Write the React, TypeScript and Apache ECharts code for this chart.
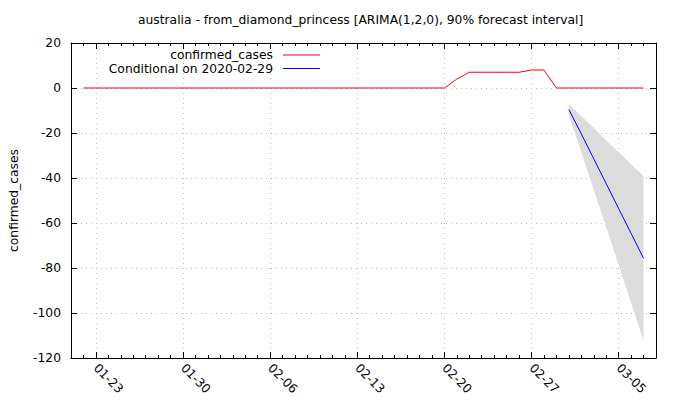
import React, { useEffect, useRef } from "react";
import * as echarts from "echarts";

const axisStart = "2020-01-21";
const axisEnd = "2020-03-08";
const tickDates = ["2020-01-23", "2020-01-30", "2020-02-06", "2020-02-13", "2020-02-20", "2020-02-27", "2020-03-05"];
const yTicks = [-120, -100, -80, -60, -40, -20, 0, 20];

const confirmedStart = "2020-01-22";
const confirmedCases = [
  0, 0, 0, 0, 0, 0, 0, 0, 0, 0,
  0, 0, 0, 0, 0, 0, 0, 0, 0, 0,
  0, 0, 0, 0, 0, 0, 0, 0, 0, 0,
  4, 7, 7, 7, 7, 7, 8, 8, 0,
  0, 0, 0, 0, 0, 0, 0,
];

const forecastStart = "2020-03-01";
const forecastMean = [-9.6, -20.4, -31.5, -42.5, -53.6, -64.6, -75.7];
const forecastUpper = [-7.1, -12.4, -17.8, -23.3, -28.6, -33.9, -39.2];
const forecastLower = [-12.0, -28.5, -45.2, -61.8, -78.6, -95.3, -112.3];

const DAY = 86400000;
const dayIndex = (s: string) => (Date.parse(s) - Date.parse(axisStart)) / DAY;
const fmtDay = (v: number) => {
  const d = new Date(Date.parse(axisStart) + Math.round(v) * DAY);
  const mm = String(d.getUTCMonth() + 1).padStart(2, "0");
  const dd = String(d.getUTCDate()).padStart(2, "0");
  return `${mm}-${dd}`;
};

const FONT = "DejaVu Sans";
const FS = 12.3;

export default function App() {
  const ref = useRef<HTMLDivElement>(null);
  useEffect(() => {
    if (!ref.current) return;
    const chart = echarts.init(ref.current, undefined, { renderer: "svg" });
    const xMin = 0;
    const xMax = dayIndex(axisEnd);
    const major = tickDates.map(dayIndex);
    const c0 = dayIndex(confirmedStart);
    const f0 = dayIndex(forecastStart);
    const redData = confirmedCases.map((v, i) => [c0 + i, v]);
    const blueData = forecastMean.map((v, i) => [f0 + i, v]);
    const bandData = forecastUpper.map((v, i) => [f0 + i, forecastLower[i], v]);

    const baseX = {
      type: "value" as const,
      min: xMin,
      max: xMax,
      gridIndex: 0,
    };
    const baseY = {
      type: "value" as const,
      min: -120,
      max: 20,
      interval: 20,
    };
    const lineBlack = { lineStyle: { color: "#000", width: 1 } };

    chart.setOption({
      animation: false,
      backgroundColor: "#fff",
      textStyle: { fontFamily: FONT },
      title: {
        text: "australia - from_diamond_princess [ARIMA(1,2,0), 90% forecast interval]",
        left: 138,
        top: 14,
        padding: 0,
        textStyle: { fontFamily: FONT, fontSize: FS, fontWeight: "normal", color: "#000" },
      },
      grid: { left: 67, right: 24, top: 43, bottom: 42, containLabel: false },
      xAxis: [
        {
          ...baseX,
          position: "bottom",
          axisLine: { show: true, onZero: false, ...lineBlack },
          axisTick: { show: true, inside: true, length: 6, customValues: major, lineStyle: { color: "#000" } },
          axisLabel: {
            show: true,
            customValues: major,
            rotate: -45,
            margin: 8,
            formatter: (v: number) => fmtDay(v),
            fontFamily: FONT,
            fontSize: FS,
            color: "#000",
          },
          splitLine: { show: true, lineStyle: { color: "#bbbbbb", type: [1, 4], width: 1 } },
        },
        {
          ...baseX,
          position: "bottom",
          interval: 1,
          axisLine: { show: false, onZero: false },
          axisTick: { show: true, inside: true, length: 3, lineStyle: { color: "#000" } },
          axisLabel: { show: false },
          splitLine: { show: false },
        },
        {
          ...baseX,
          position: "top",
          axisLine: { show: true, onZero: false, ...lineBlack },
          axisTick: { show: true, inside: true, length: 6, customValues: major, lineStyle: { color: "#000" } },
          axisLabel: { show: false },
          splitLine: { show: false },
        },
        {
          ...baseX,
          position: "top",
          interval: 1,
          axisLine: { show: false, onZero: false },
          axisTick: { show: true, inside: true, length: 3, lineStyle: { color: "#000" } },
          axisLabel: { show: false },
          splitLine: { show: false },
        },
      ],
      yAxis: [
        {
          ...baseY,
          position: "left",
          name: "confirmed_cases",
          nameLocation: "middle",
          nameGap: 51,
          nameTextStyle: { fontFamily: FONT, fontSize: FS, color: "#000" },
          axisLine: { show: true, onZero: false, ...lineBlack },
          axisTick: { show: true, inside: true, length: 6, lineStyle: { color: "#000" } },
          axisLabel: {
            show: true,
            margin: 10,
            fontFamily: FONT,
            fontSize: FS,
            color: "#000",
            customValues: yTicks,
          },
          splitLine: { show: true, lineStyle: { color: "#bbbbbb", type: [1, 4], width: 1 } },
        },
        {
          ...baseY,
          position: "right",
          axisLine: { show: true, onZero: false, ...lineBlack },
          axisTick: { show: true, inside: true, length: 6, lineStyle: { color: "#000" } },
          axisLabel: { show: false },
          splitLine: { show: false },
        },
      ],
      series: [
        {
          type: "custom",
          name: "90% interval",
          data: bandData,
          silent: true,
          renderItem: (params: any, api: any) => {
            if (params.dataIndex !== 0) return null;
            const upperPts = bandData.map((d) => api.coord([d[0], d[2]]));
            const lowerPts = bandData.map((d) => api.coord([d[0], d[1]])).reverse();
            return {
              type: "polygon",
              shape: { points: upperPts.concat(lowerPts) },
              style: { fill: "#dcdcdc", stroke: "none" },
            };
          },
          encode: { x: 0, y: [1, 2] },
          z: 1,
        },
        {
          type: "line",
          name: "Conditional on 2020-02-29",
          data: blueData,
          symbol: "none",
          lineStyle: { color: "#0000ff", width: 1 },
          z: 3,
        },
        {
          type: "line",
          name: "confirmed_cases",
          data: redData,
          symbol: "none",
          lineStyle: { color: "#ff0000", width: 1 },
          z: 3,
        },
      ],
      graphic: [
        {
          type: "text",
          x: 273,
          y: 55,
          style: { text: "confirmed_cases", align: "right", verticalAlign: "middle", font: `${FS}px '${FONT}'`, fill: "#000" },
        },
        { type: "line", shape: { x1: 283, y1: 55, x2: 320, y2: 55 }, style: { stroke: "#ff0000", lineWidth: 1 } },
        {
          type: "text",
          x: 273,
          y: 68.5,
          style: { text: "Conditional on 2020-02-29", align: "right", verticalAlign: "middle", font: `${FS}px '${FONT}'`, fill: "#000" },
        },
        { type: "line", shape: { x1: 283, y1: 68.5, x2: 320, y2: 68.5 }, style: { stroke: "#0000ff", lineWidth: 1 } },
      ],
    });
    return () => chart.dispose();
  }, []);
  return <div ref={ref} style={{ width: 680, height: 400, position: "absolute", left: 0, top: 0 }} />;
}
